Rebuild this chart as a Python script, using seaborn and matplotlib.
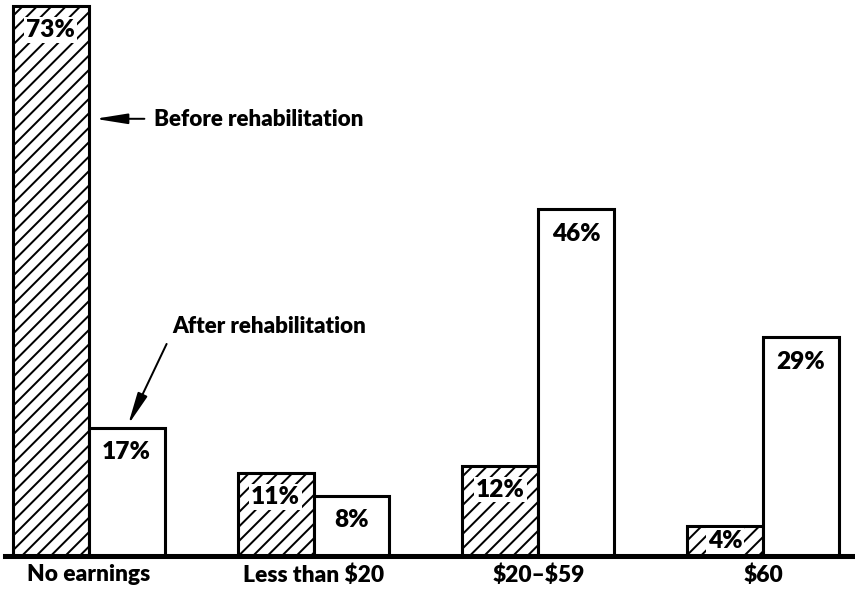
import matplotlib
matplotlib.use("Agg")
import matplotlib.pyplot as plt
import pandas as pd
import seaborn as sns

# Weekly earnings of rehabilitated clients, before and after rehabilitation
categories = ["No earnings", "Less than $20", "$20–$59", "$60"]
periods = ["Before rehabilitation", "After rehabilitation"]
before = [73, 11, 12, 4]
after = [17, 8, 46, 29]

df = pd.DataFrame({
    "category": categories * 2,
    "period": [periods[0]] * len(categories) + [periods[1]] * len(categories),
    "percent": before + after,
})

sns.set_theme(style="white")
plt.rcParams["font.family"] = ["Lato", "DejaVu Sans"]
plt.rcParams["text.parse_math"] = False
plt.rcParams["hatch.linewidth"] = 1.1
plt.rcParams["hatch.color"] = "black"

DPI = 130
fig = plt.figure(figsize=(855.3 / DPI, 591.3 / DPI), dpi=DPI)
fig.patch.set_facecolor("white")
ax = fig.add_axes([5 / 855, 35 / 591, 850 / 855, 556 / 591])

sns.barplot(
    data=df, x="category", y="percent", hue="period",
    order=categories, hue_order=periods,
    palette=["white", "white"], saturation=1,
    width=0.676, gap=0, edgecolor="black", linewidth=1.7,
    legend=False, ax=ax,
)

# hatch the "before" bars
for bar in ax.containers[0]:
    bar.set_hatch("///")
    bar.set_edgecolor("black")

ax.set_xlim(-0.3725, 3.4104)
ax.set_ylim(0, 73.8)
ax.set_xlabel("")
ax.set_ylabel("")
ax.set_yticks([])
sns.despine(ax=ax, left=True)
ax.spines["bottom"].set_linewidth(2.8)
ax.spines["bottom"].set_color("black")
ax.spines["bottom"].set_zorder(5)
ax.tick_params(axis="x", length=0, pad=4.5, labelsize=12.6, colors="black")
for lbl in ax.get_xticklabels():
    lbl.set_fontweight("heavy")

# value labels inside the top of each bar
px_per_unit = 556 / 73.8
for ci, (container, vals) in enumerate(zip(ax.containers, [before, after])):
    for bar, v in zip(container, vals):
        x = bar.get_x() + bar.get_width() / 2
        off = min(24, 0.5 * v * px_per_unit)
        kw = {}
        if ci == 0:
            kw["bbox"] = dict(boxstyle="square,pad=0.08", fc="white", ec="none")
        ax.annotate(f"{v}%", xy=(x, v), xytext=(0, -off),
                    textcoords="offset pixels", ha="center", va="center",
                    fontsize=13.5, fontweight="heavy", color="black", zorder=6, **kw)

# series call-outs
arrow = dict(arrowstyle="-|>,head_length=0.75,head_width=0.12",
             color="black", lw=1.1, shrinkB=0, mutation_scale=20)
ax.annotate("Before rehabilitation", xy=(0.028, 58.0), xytext=(0.29, 58.0),
            ha="left", va="center", fontsize=12.4, fontweight="heavy", color="black",
            arrowprops=dict(arrow, shrinkA=3))
ax.annotate("After rehabilitation", xy=(0.175, 17.4), xytext=(0.371, 30.5),
            ha="left", va="center", fontsize=12.4, fontweight="heavy", color="black",
            arrowprops=dict(arrow, shrinkA=2, relpos=(0, 0.2)))

fig.savefig("out.png", dpi=DPI, facecolor="white")
